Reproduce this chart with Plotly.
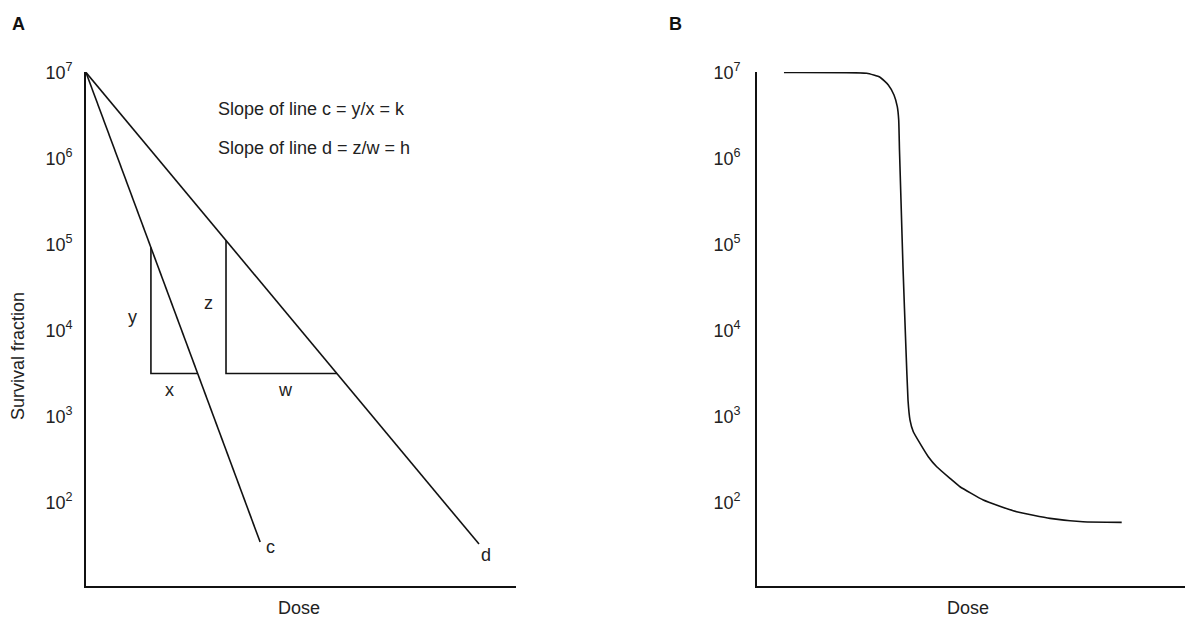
import plotly.graph_objects as go

W, H = 1185, 617
FONT = "Liberation Sans, Arial, sans-serif"

# ---------------- data ----------------
# Panel A: two straight survival lines on log scale (dose in arbitrary units)
line_c_dose = [0.0, 4.05]
line_c_surv = [1e7, 10 ** 1.541]
line_d_dose = [0.0, 9.14]
line_d_surv = [1e7, 10 ** 1.517]

# slope triangles
tri_c_dose = [1.51, 1.51, 2.597]
tri_c_surv = [10 ** 4.965, 10 ** 3.5, 10 ** 3.5]
tri_d_dose = [3.256, 3.256, 5.834]
tri_d_surv = [10 ** 5.047, 10 ** 3.5, 10 ** 3.5]

# Panel B: shouldered survival curve
curve_b_dose = [0.63, 2.563, 2.874, 3.068, 3.201, 3.278, 3.311, 3.329, 3.364, 3.411,
                3.481, 3.528, 3.575, 3.652, 3.808, 4.002, 4.199, 4.509, 4.743, 5.287,
                6.068, 6.846, 7.617, 8.521]
curve_b_logsurv = [7.0, 6.99, 6.944, 6.855, 6.738, 6.602, 6.448, 6.099, 5.517, 4.738,
                   3.773, 3.192, 2.959, 2.823, 2.688, 2.533, 2.416, 2.281, 2.184, 2.029,
                   1.893, 1.816, 1.777, 1.770]
curve_b_surv = [10 ** v for v in curve_b_logsurv]

tick_vals = [1e2, 1e3, 1e4, 1e5, 1e6, 1e7]
tick_text = ["10<sup>2</sup>", "10<sup>3</sup>", "10<sup>4</sup>",
             "10<sup>5</sup>", "10<sup>6</sup>", "10<sup>7</sup>"]

slope_texts = ["Slope of line c = y/x = k", "Slope of line d = z/w = h"]

# ---------------- figure ----------------
fig = go.Figure()
line_style = dict(color="#111111", width=1.6)

for xs, ys in [(line_c_dose, line_c_surv), (line_d_dose, line_d_surv),
               (tri_c_dose, tri_c_surv), (tri_d_dose, tri_d_surv)]:
    fig.add_trace(go.Scatter(x=xs, y=ys, mode="lines", line=line_style,
                             xaxis="x", yaxis="y", showlegend=False, hoverinfo="skip"))

fig.add_trace(go.Scatter(x=curve_b_dose, y=curve_b_surv, mode="lines",
                         line=dict(color="#111111", width=1.6, shape="spline", smoothing=0.4),
                         xaxis="x2", yaxis="y2", showlegend=False, hoverinfo="skip"))

def px_x(p):
    return p / W

def px_y(p):
    return 1 - p / H

y_dom = [px_y(586), px_y(72)]
yrange = [1.03, 7.005]

axis_common = dict(showline=True, linecolor="#111111", linewidth=1.6, showgrid=False,
                   zeroline=False, ticks="", fixedrange=True)

FS = 18

fig.update_layout(
    width=W, height=H,
    margin=dict(l=0, r=0, t=0, b=0),
    paper_bgcolor="white", plot_bgcolor="white",
    font=dict(family=FONT, size=FS, color="#222222"),
    xaxis=dict(domain=[px_x(86), px_x(516)], range=[0, 10], showticklabels=False,
               anchor="y", **axis_common),
    yaxis=dict(domain=y_dom, type="log", range=yrange, tickvals=tick_vals,
               ticktext=tick_text, anchor="x", automargin=False, ticklabelstandoff=8,
               tickfont=dict(size=FS, color="#222222"), **axis_common),
    xaxis2=dict(domain=[px_x(757), px_x(1185)], range=[0, 10], showticklabels=False,
                anchor="y2", **axis_common),
    yaxis2=dict(domain=y_dom, type="log", range=yrange, tickvals=tick_vals,
                ticktext=tick_text, anchor="x2", automargin=False, ticklabelstandoff=11,
                tickfont=dict(size=FS, color="#222222"), **axis_common),
)

ann = []
paper_c = dict(xref="paper", yref="paper", showarrow=False, xanchor="center", yanchor="middle")
# panel letters
ann.append(dict(text="<b>A</b>", x=px_x(18), y=px_y(24), font=dict(size=FS, color="#111111"), **paper_c))
ann.append(dict(text="<b>B</b>", x=px_x(675), y=px_y(24), font=dict(size=FS, color="#111111"), **paper_c))
# axis titles
ann.append(dict(text="Survival fraction", x=px_x(18), y=px_y(356), textangle=-90,
                font=dict(size=FS), **paper_c))
ann.append(dict(text="Dose", x=px_x(299), y=px_y(608), font=dict(size=FS), **paper_c))
ann.append(dict(text="Dose", x=px_x(968), y=px_y(608), font=dict(size=FS), **paper_c))
# slope equations
ann.append(dict(text=slope_texts[0], x=3.02, y=6.576, xref="x", yref="y", xanchor="left",
                yanchor="middle", showarrow=False, font=dict(size=FS)))
ann.append(dict(text=slope_texts[1], x=3.02, y=6.122, xref="x", yref="y", xanchor="left",
                yanchor="middle", showarrow=False, font=dict(size=FS)))
# triangle / line letters
for t, xv, yv in [("y", 1.09, 4.157), ("x", 1.95, 3.31), ("z", 2.86, 4.32),
                  ("w", 4.65, 3.31), ("c", 4.28, 1.48), ("d", 9.30, 1.39)]:
    ann.append(dict(text=t, x=xv, y=yv, xref="x", yref="y", showarrow=False,
                    xanchor="center", yanchor="middle", font=dict(size=FS)))

fig.update_layout(annotations=ann)
fig.write_html("out.html", config={"displayModeBar": False},
               post_script="document.body.style.margin='0';document.body.style.overflow='hidden';")
